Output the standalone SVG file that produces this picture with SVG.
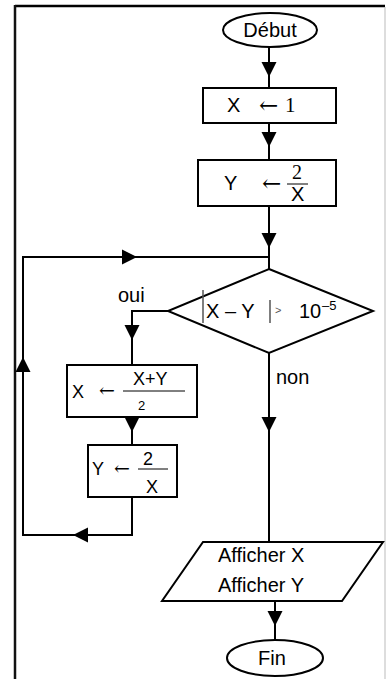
<svg xmlns="http://www.w3.org/2000/svg" width="386" height="679" viewBox="0 0 386 679">
  <defs>
    <style>
      .shape { fill: none; stroke: #000; stroke-width: 2; }
      .wire { fill: none; stroke: #000; stroke-width: 2; }
      .t { font-family: "Liberation Sans", Arial, sans-serif; font-size: 20px; fill: #000; }
      .m { font-family: "Liberation Sans", Arial, sans-serif; font-size: 18px; fill: #000; }
      .serif { font-family: "Liberation Serif", "Times New Roman", serif; fill: #000; }
      .arr { font-family: "DejaVu Serif", "Liberation Serif", serif; fill: #000; }
      .frac { stroke: #000; stroke-width: 1; }
      .bar { stroke: #555; stroke-width: 1.5; }
    </style>
    <!-- filled arrowhead, tip at origin, pointing down -->
    <path id="ah" d="M0,0 L-7.5,-15 L7.5,-15 Z" fill="#000"/>
  </defs>

  <rect x="0" y="0" width="386" height="679" fill="#fff"/>

  <!-- page frame -->
  <g id="frame">
    <line x1="15" y1="6" x2="385" y2="6" stroke="#000" stroke-width="2.5"/>
    <line x1="15" y1="5" x2="15" y2="679" stroke="#111" stroke-width="2.5"/>
    <line x1="385" y1="7" x2="385" y2="679" stroke="#bbb" stroke-width="1"/>
  </g>

  <!-- connectors -->
  <g id="connectors">
    <line class="wire" x1="269" y1="46" x2="269" y2="88"/>
    <use href="#ah" transform="translate(269,77)"/>

    <line class="wire" x1="269" y1="123" x2="269" y2="160"/>
    <use href="#ah" transform="translate(269,147)"/>

    <line class="wire" x1="269" y1="206" x2="269" y2="269"/>
    <use href="#ah" transform="translate(269,248)"/>

    <!-- loop return into the test -->
    <polyline class="wire" points="132,497 132,535 23,535 23,257 269,257"/>
    <use href="#ah" transform="translate(137,257) rotate(-90)"/>
    <use href="#ah" transform="translate(73,535) rotate(90)"/>
    <use href="#ah" transform="translate(23,357) rotate(180)"/>

    <!-- oui branch -->
    <polyline class="wire" points="168,311 132,311 132,365"/>
    <use href="#ah" transform="translate(132,340)"/>

    <line class="wire" x1="132" y1="417" x2="132" y2="445"/>
    <use href="#ah" transform="translate(132,432)"/>

    <!-- non branch -->
    <line class="wire" x1="269" y1="353" x2="269" y2="542"/>
    <use href="#ah" transform="translate(269,432)"/>

    <line class="wire" x1="275" y1="601" x2="275" y2="640"/>
    <use href="#ah" transform="translate(275,626)"/>

    <text class="t" x="118" y="302">oui</text>
    <text class="t" x="276" y="384">non</text>
  </g>

  <g id="debut">
    <ellipse class="shape" cx="270" cy="30" rx="47" ry="17"/>
    <text class="t" x="270" y="37" text-anchor="middle">Début</text>
  </g>

  <g id="init-x">
    <rect class="shape" x="203" y="88" width="133" height="35"/>
    <text class="t" x="227" y="112">X</text>
    <text class="arr" x="259" y="113" font-size="23">←</text>
    <text class="serif" x="285" y="112" font-size="21">1</text>
  </g>

  <g id="init-y">
    <rect class="shape" x="198" y="160" width="138" height="46"/>
    <text class="t" x="224" y="190">Y</text>
    <text class="arr" x="262" y="191" font-size="23">←</text>
    <text class="serif" x="292" y="179" font-size="20">2</text>
    <line class="frac" x1="287" y1="184" x2="308" y2="184"/>
    <text class="t" x="291" y="201">X</text>
  </g>

  <g id="test">
    <polygon class="shape" points="269,269 373,311 269,353 168,311"/>
    <line class="bar" x1="203" y1="290" x2="203" y2="323"/>
    <text class="t" x="206" y="318">X – Y</text>
    <line class="bar" x1="270" y1="300" x2="270" y2="323"/>
    <text x="275" y="314" font-family="'Liberation Sans', Arial, sans-serif" font-size="11" fill="#555">&gt;</text>
    <text class="t" x="299" y="318">10</text>
    <text x="322" y="310" font-family="'Liberation Sans', Arial, sans-serif" font-size="13" fill="#000">–5</text>
  </g>

  <g id="update-x">
    <rect class="shape" x="67" y="365" width="130" height="52"/>
    <text class="m" x="72" y="398">X</text>
    <text class="arr" x="99" y="397" font-size="19">←</text>
    <text class="m" x="133" y="385">X+Y</text>
    <line class="frac" x1="123" y1="391" x2="185" y2="391" stroke="#444"/>
    <text x="138" y="410" font-family="'Liberation Sans', Arial, sans-serif" font-size="13" fill="#000">2</text>
  </g>

  <g id="update-y">
    <rect class="shape" x="88" y="445" width="89" height="52"/>
    <text class="m" x="92" y="475">Y</text>
    <text class="arr" x="114" y="475" font-size="19">←</text>
    <text class="m" x="143" y="465">2</text>
    <line class="frac" x1="138" y1="469" x2="168" y2="469"/>
    <text class="m" x="146" y="493">X</text>
  </g>

  <g id="output">
    <polygon class="shape" points="203,542 383,542 342,601 162,601"/>
    <text class="t" x="218" y="562">Afficher X</text>
    <text class="t" x="218" y="592">Afficher Y</text>
  </g>

  <g id="fin">
    <ellipse class="shape" cx="275" cy="658" rx="48" ry="18"/>
    <text class="t" x="272" y="665" text-anchor="middle">Fin</text>
  </g>
</svg>
